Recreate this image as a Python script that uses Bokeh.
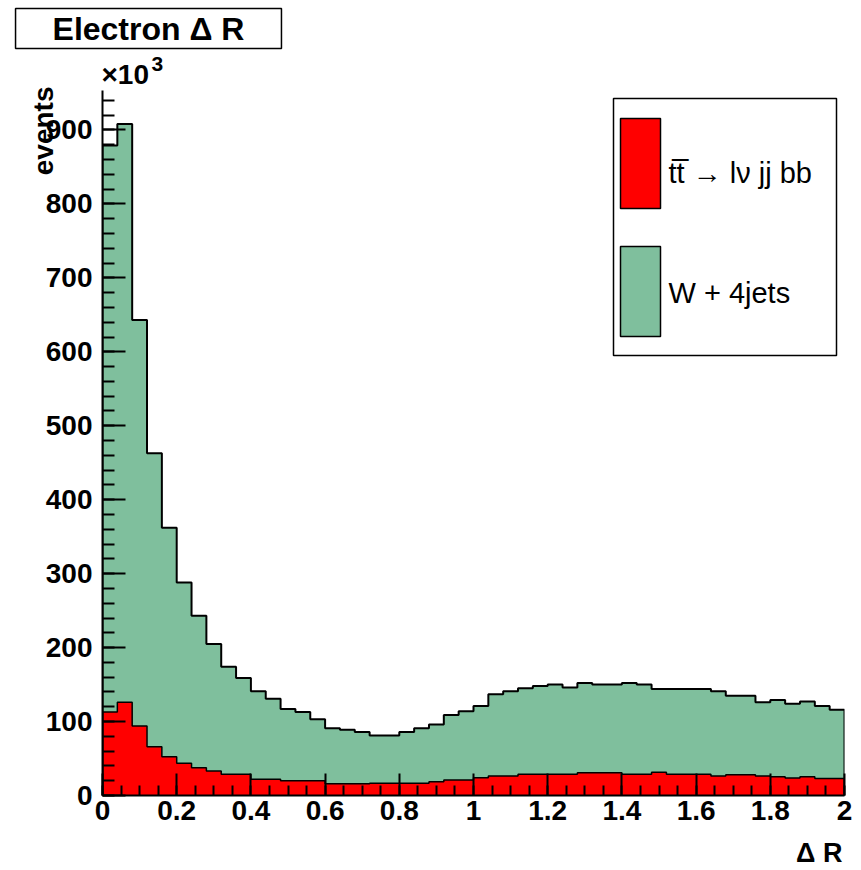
import numpy as np
from bokeh.plotting import figure
from bokeh.models import Range1d, FixedTicker, Label, BoxAnnotation
from bokeh.embed import file_html
from bokeh.resources import INLINE

# Electron delta-R: 50 bins between 0 and 2, events in units of 10^3
x_lo, x_hi, n_bins = 0.0, 2.0, 50

# ttbar -> l nu jj bb (bottom of the stack)
ttbar = [113, 126, 94, 66, 52.5, 43.5, 37.6, 33, 28.7, 28.7,
         22, 22, 20, 20, 20, 16, 16, 16, 16.5, 16.5,
         16.5, 16.5, 18.7, 21, 21, 24, 26.4, 26.4, 28.6, 28.6,
         28.6, 28.6, 30.9, 30.9, 30.9, 28.6, 28.6, 31.3, 28.6, 28.6,
         28.6, 26.4, 28.1, 28.1, 26.4, 25.5, 23.6, 25.5, 22.9, 22.9]

# W + 4 jets (stacked on top)
wjets = [766, 782, 549, 397, 309.5, 244.5, 205.4, 172, 145.3, 130.3,
         119, 109, 97, 93, 83, 75, 73, 70, 64.5, 64.5,
         69.5, 74.5, 77.3, 88, 93, 97, 110.6, 114.6, 116.4, 119.4,
         121.4, 117.4, 121.1, 119.1, 119.1, 123.4, 121.4, 112.7, 115.4, 115.4,
         115.4, 114.6, 106.9, 106.9, 99.6, 103.5, 100.4, 101.5, 98.1, 93.1]

x_ticks = [0, 0.2, 0.4, 0.6, 0.8, 1.0, 1.2, 1.4, 1.6, 1.8, 2.0]
x_tick_labels = ["0", "0.2", "0.4", "0.6", "0.8", "1", "1.2", "1.4", "1.6", "1.8", "2"]
y_ticks = [0, 100, 200, 300, 400, 500, 600, 700, 800, 900]
y_tick_labels = ["0", "100", "200", "300", "400", "500", "600", "700", "800", "900"]

legend_labels = ["tt\u0305 \u2192 l\u03bd jj bb", "W + 4jets"]
red = "#ff0000"
green = "#7fbf9d"
font = "Liberation Sans"

edges = np.linspace(x_lo, x_hi, n_bins + 1)
lower = np.array(ttbar, dtype=float)
total = lower + np.array(wjets, dtype=float)
y_top = total.max() * 1.05

p = figure(width=861, height=870, output_backend="svg", toolbar_location=None,
           x_range=Range1d(x_lo, x_hi), y_range=Range1d(0, y_top),
           min_border_left=102, min_border_right=17, min_border_top=90,
           min_border_bottom=75)
p.outline_line_color = None
p.xgrid.visible = False
p.ygrid.visible = False
p.background_fill_color = "white"
p.border_fill_color = "white"


def step_path(vals):
    xs = np.column_stack([edges[:-1], edges[1:]]).ravel()
    ys = np.repeat(vals, 2)
    xs = np.concatenate([[edges[0]], xs, [edges[-1]]])
    ys = np.concatenate([[0.0], ys, [0.0]])
    return xs, ys


# filled stack
p.varea_step(x=edges, y1=np.append(lower, lower[-1]), y2=np.append(total, total[-1]),
             step_mode="after", fill_color=green)
p.varea_step(x=edges, y1=np.zeros(n_bins + 1), y2=np.append(lower, lower[-1]),
             step_mode="after", fill_color=red)

# histogram outlines
xs, ys = step_path(total)
p.line(xs, ys, line_color="black", line_width=2)
xs, ys = step_path(lower)
p.line(xs, ys, line_color="black", line_width=1.5)

for ax in (p.xaxis[0], p.yaxis[0]):
    ax.axis_line_width = 2
    ax.major_tick_line_width = 2
    ax.minor_tick_line_width = 2
    ax.major_tick_out = 0
    ax.minor_tick_out = 0
    ax.major_label_text_font = font
    ax.major_label_text_font_style = "bold"
    ax.major_label_text_font_size = "28px"
    ax.major_label_text_color = "black"

p.xaxis.ticker = FixedTicker(ticks=x_ticks,
                             minor_ticks=list(np.round(np.arange(x_lo, x_hi + 1e-9, 0.05), 3)))
p.xaxis.major_label_overrides = dict(zip(x_ticks, x_tick_labels))
p.xaxis.major_tick_in = 22
p.xaxis.minor_tick_in = 10
p.xaxis.major_label_standoff = 5

p.yaxis.ticker = FixedTicker(ticks=y_ticks, minor_ticks=list(range(0, 960, 20)))
p.yaxis.major_label_overrides = dict(zip(y_ticks, y_tick_labels))
p.yaxis.major_tick_in = 23
p.yaxis.minor_tick_in = 12
p.yaxis.major_label_standoff = 10


def text_label(side, x, y, text, size, align="left", baseline="middle", bold=True, **kw):
    # texts outside the plotting area live in the side panels (canvas pixel units)
    p.add_layout(Label(x=x, y=y, x_units="canvas", y_units="canvas", text=text,
                       text_font=font, text_font_style="bold" if bold else "normal",
                       text_font_size=size, text_color="black",
                       text_align=align, text_baseline=baseline, **kw), side)


# title box
text_label("above", 148, 28, "Electron \u0394 R", "32px", align="center",
           background_fill_color="white", border_line_color="black",
           border_line_width=1.5, padding=(37, 2))
# exponent of the y axis
text_label("above", 101, 74, "\u00d710", "28px")
text_label("above", 151, 63, "3", "21px")
# axis titles
text_label("left", 43, 86, "events", "28px", align="right", angle=np.pi / 2)
text_label("below", 842, 852, "\u0394 R", "27px", align="right")

# legend
p.add_layout(BoxAnnotation(left=511, right=734, top=697, bottom=440,
                           left_units="screen", right_units="screen",
                           top_units="screen", bottom_units="screen",
                           fill_color="white", fill_alpha=1.0,
                           line_color="black", line_alpha=1.0, line_width=1.5))
for (top, bottom, colour, text, ty) in [(677, 587, red, legend_labels[0], 623),
                                        (549, 459, green, legend_labels[1], 503)]:
    p.add_layout(BoxAnnotation(left=518, right=558, top=top, bottom=bottom,
                               left_units="screen", right_units="screen",
                               top_units="screen", bottom_units="screen",
                               fill_color=colour, fill_alpha=1.0,
                               line_color="black", line_alpha=1.0, line_width=1.5))
    p.add_layout(Label(x=566, y=ty, x_units="screen", y_units="screen", text=text,
                       text_font=font, text_font_size="29px", text_color="black",
                       text_align="left", text_baseline="middle"))

open("out.html", "w").write(file_html(p, INLINE))
